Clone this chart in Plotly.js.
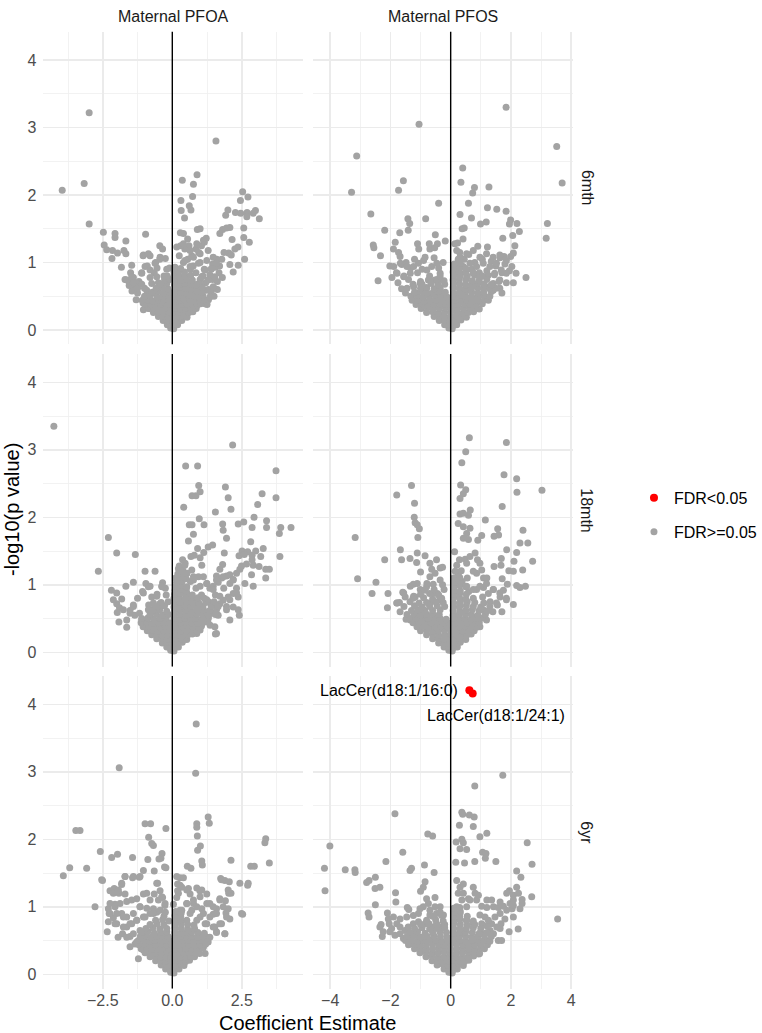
<!DOCTYPE html>
<html><head><meta charset="utf-8">
<script src="https://cdn.plot.ly/plotly-3.0.1.min.js"></script>
<style>html,body{margin:0;padding:0;background:#fff}</style>
</head><body><div id="chart" style="width:762px;height:1033px"></div>
<script>
const exposures = ['Maternal PFOA', 'Maternal PFOS'];
const timepoints = ['6mth', '18mth', '6yr'];
const legendNames = ['FDR<0.05', 'FDR>=0.05'];
const sigLabels = ['LacCer(d18:1/16:0)', 'LacCer(d18:1/24:1)'];

// [coefficient estimate, -log10(p)]
const pfoa_6mth = [
[-2.99,3.22],[-3.96,2.07],[-3.17,2.17],[-2.99,1.57],[1.57,2.80],
[-2.48,1.45],[-2.06,1.43],[-2.06,1.37],[-1.67,1.32],[-0.96,1.42],[-2.45,1.26],[-2.36,1.19],[-2.15,1.18],[-1.97,1.14],[-2.17,1.06],[-1.74,1.18],[-1.67,1.13],[-1.83,0.93],[-1.46,0.96],
[0.36,2.22],[0.89,2.30],[0.76,2.16],[0.73,1.98],[0.31,1.92],[0.32,1.77],[0.61,1.84],[0.67,1.78],[0.44,1.66],[0.29,1.44],[0.40,1.43],[0.90,1.49],[1.00,1.50],
[2.53,2.05],[2.72,1.97],[2.45,1.92],[2.00,1.78],[1.92,1.70],[2.27,1.74],[2.46,1.73],[2.69,1.74],[2.68,1.68],[2.99,1.77],[2.91,1.73],[3.13,1.65],[1.71,1.43],[1.81,1.49],[1.95,1.51],[2.07,1.52],[2.57,1.51],[2.57,1.37],[2.15,1.34],[2.36,1.23],[2.77,1.30],[2.25,1.20],[2.03,1.14],[2.12,1.11],[2.60,1.05],[2.37,0.96],[2.07,0.97],[2.19,0.86],
[1.86,1.15],[1.78,1.05],[1.60,1.05],[1.45,0.98],[1.55,0.93],[1.70,0.95],[1.40,0.90],[1.68,0.85],[1.80,0.78],[1.62,0.72],[1.45,0.75],[1.50,0.62],[1.30,0.60],[1.20,0.70],[1.10,0.80],[1.15,0.90],[1.00,1.00],[0.95,1.15],[1.05,1.25],[1.15,1.30],[1.22,1.36],[0.85,1.20],[0.70,1.10],[0.60,1.25],[0.45,1.20],[0.30,1.25],[0.55,1.35],[0.25,1.10],[0.40,1.00],[0.55,1.05],[0.75,0.95],[0.85,0.85],[1.00,0.75],[1.30,0.45],[1.50,0.50],[1.25,0.38],[1.15,0.45],[1.40,0.55],[1.62,0.60],[1.35,0.82],[0.65,0.90],[0.90,0.68],[0.80,0.58],
[0.16,1.23],[0.40,1.28],[0.64,1.18],[0.88,1.28],[1.12,1.33],[1.29,1.18],[1.00,1.13],[0.76,1.08],[0.46,1.03],[0.64,0.94],[0.94,0.99],[1.24,1.03],[1.47,1.08],[1.59,0.99],[1.41,0.91],[1.18,0.89],[1.06,0.79],[1.29,0.74],[1.53,0.79],[1.47,0.64],[1.24,0.59],[1.35,0.49],[1.18,0.39],[1.00,0.67],
[-1.50,0.85],[-1.70,0.75],[-1.55,0.72],[-1.40,0.78],[-1.35,0.65],[-1.45,0.58],[-1.25,0.55],[-1.20,0.72],[-1.10,0.85],[-1.05,1.10],[-0.80,1.10],[-0.90,0.95],[-0.60,1.00],[-0.45,1.25],[-0.35,1.20],[-0.45,1.05],[-0.25,1.06],[-0.65,0.85],[-0.80,0.78],[-1.00,0.62],[-0.90,0.50],[-1.05,0.40],[-1.04,0.30],[-0.85,0.32],[-0.70,0.55],[-0.50,0.70],[-0.30,0.80],[-0.20,0.90],[-1.30,0.45],[-0.55,0.92],
[-1.64,0.74],[-1.46,0.79],[-1.28,0.69],[-1.10,0.84],[-0.98,0.94],[-0.80,0.89],[-0.62,0.99],[-0.44,1.08],[-0.56,0.79],[-0.74,0.69],[-0.92,0.59],[-1.04,1.11],[-0.86,1.13],
[-0.06,0.03],[0.05,0.02],
[-0.18,0.08],[-0.04,0.09],[0.08,0.07],[0.19,0.08],
[-0.33,0.14],[-0.16,0.15],[0.01,0.14],[0.17,0.13],[0.34,0.14],
[-0.50,0.20],[-0.33,0.21],[-0.15,0.19],[0.03,0.20],[0.20,0.21],[0.37,0.20],[0.53,0.19],
[-0.68,0.26],[-0.50,0.27],[-0.32,0.25],[-0.12,0.26],[0.06,0.27],[0.24,0.26],[0.42,0.25],[0.60,0.26],[0.74,0.27],
[-0.84,0.32],[-0.66,0.33],[-0.47,0.31],[-0.28,0.32],[-0.10,0.33],[0.10,0.32],[0.30,0.31],[0.48,0.32],[0.66,0.33],[0.86,0.32],
[-0.98,0.38],[-0.80,0.39],[-0.60,0.37],[-0.42,0.38],[-0.22,0.39],[-0.04,0.38],[0.15,0.37],[0.34,0.38],[0.52,0.39],[0.72,0.38],[0.90,0.37],[1.02,0.39],
[-1.08,0.44],[-0.90,0.45],[-0.70,0.43],[-0.50,0.44],[-0.30,0.45],[-0.12,0.44],[0.08,0.43],[0.26,0.44],[0.45,0.45],[0.64,0.44],[0.82,0.43],[1.00,0.44],[1.12,0.45],
[-1.00,0.50],[-0.80,0.51],[-0.55,0.49],[-0.35,0.50],[-0.15,0.51],[0.05,0.50],[0.24,0.49],[0.42,0.50],[0.60,0.51],[0.80,0.50],[0.98,0.49],[1.10,0.51],
[-0.72,0.56],[-0.50,0.57],[-0.30,0.55],[-0.10,0.56],[0.12,0.57],[0.30,0.56],[0.50,0.55],[0.70,0.56],[0.90,0.57],[1.05,0.56],
[-0.58,0.62],[-0.36,0.63],[-0.16,0.61],[0.10,0.62],[0.28,0.63],[0.48,0.62],[0.68,0.61],[0.88,0.62],[1.08,0.63],
[-0.42,0.68],[-0.20,0.69],[0.08,0.67],[0.26,0.68],[0.46,0.69],[0.66,0.68],[0.86,0.67],
[-0.28,0.74],[-0.08,0.75],[0.10,0.73],[0.30,0.74],[0.50,0.75],[0.72,0.74],
[-0.18,0.80],[0.08,0.81],[0.26,0.79],[0.46,0.80],[0.66,0.81],
[0.06,0.86],[0.24,0.87],[0.44,0.86],
[-0.10,0.92],[0.10,0.93],[0.30,0.91],
[-1.55,0.66],[-1.40,0.70],[-1.25,0.62],[-1.10,0.68]
];

const pfos_6mth = [
[1.84,3.30],[-1.05,3.05],[3.52,2.72],[-3.12,2.58],[3.70,2.18],[-3.29,2.04],[0.40,2.40],[0.34,2.19],[-1.57,2.21],[-1.73,2.07],[0.79,2.11],[0.73,2.03],[1.27,2.12],[0.59,1.88],[-0.40,1.88],[-2.65,1.72],[1.22,1.81],[1.53,1.79],[1.84,1.76],[0.31,1.71],[0.69,1.66],[-1.42,1.65],[-1.36,1.58],[-0.83,1.65],[1.99,1.63],[1.95,1.57],[2.20,1.58],[1.18,1.60],[0.99,1.57],[0.38,1.50],[0.45,1.51],[3.21,1.58],[3.17,1.36],[2.28,1.46],[-2.19,1.48],[-1.69,1.44],[-1.41,1.48],[-0.51,1.41],[-0.18,1.32],[0.14,1.28],[0.23,1.29],[0.41,1.35],[1.73,1.36],[2.06,1.40],[2.13,1.25],[-2.57,1.26],[-2.55,1.22],[-1.84,1.30],[-1.90,1.20],[-1.10,1.28],[-1.06,1.20],[-0.71,1.28],[-0.69,1.20],[-0.44,1.28],[-0.53,1.22],[-2.33,1.10],[-1.73,1.15],[-1.68,1.09],[-2.02,0.95],[-2.41,0.73],[2.50,0.78],[2.08,0.70],[2.08,1.14],[1.99,1.09],[1.77,1.09],[1.64,1.07],[1.22,1.23],[0.90,1.24],[2.17,0.84],[2.03,0.94],[-1.63,0.61],
[-1.48,1.00],[-1.33,0.92],[-1.62,0.97],[-1.20,1.05],[-0.85,1.08],[-0.55,1.07],[-0.95,0.90],[-1.10,0.85],[-1.80,0.85],[-1.95,0.78],[-1.55,0.80],[-1.40,0.75],[-1.75,0.70],[-1.25,0.68],[-1.00,0.72],[-0.70,0.80],[-0.40,0.92],[-0.25,1.00],[-0.80,0.62],[-1.50,0.55],[-1.15,0.55],[-0.35,0.75],
[-1.89,0.94],[-1.78,0.84],[-1.67,0.99],[-1.45,0.94],[-1.56,0.79],[-1.34,0.84],[-1.23,0.94],[-1.07,0.99],[-0.90,1.03],[-0.79,0.89],[-0.63,0.94],[-0.46,0.99],[-0.35,0.84],[-0.52,0.74],[-0.74,0.74],[-1.01,0.69],[-1.23,0.64],[-1.45,0.62],
[0.30,1.15],[0.45,1.05],[0.60,1.12],[0.80,1.00],[1.05,1.05],[1.35,1.02],[1.50,0.95],[1.80,0.98],[1.95,0.88],[1.70,0.85],[1.45,0.82],[1.20,0.88],[0.95,0.85],[0.70,0.90],[0.50,0.85],[0.35,0.95],[1.60,0.72],[1.85,0.70],[1.70,0.55],[0.20,0.85],[0.25,1.05],
[0.20,1.18],[0.31,1.08],[0.53,1.13],[0.75,1.18],[0.97,1.08],[1.19,1.13],[1.41,1.08],[1.63,1.11],[1.85,1.03],[1.52,0.99],[1.30,0.94],[1.08,0.99],[0.86,0.94],[0.64,0.99],[0.42,0.94],[0.31,0.84],[0.53,0.79],[0.75,0.84],[0.97,0.79],[1.24,0.81],[1.46,0.84],[1.68,0.89],[1.85,0.84],[1.63,0.74],[1.41,0.69],[1.19,0.64],[1.41,0.59],[1.63,0.62],
[-0.06,0.03],[0.05,0.02],
[-0.20,0.08],[-0.05,0.09],[0.10,0.07],[0.20,0.08],
[-0.38,0.14],[-0.20,0.15],[-0.02,0.13],[0.16,0.14],[0.34,0.15],
[-0.55,0.20],[-0.36,0.21],[-0.18,0.19],[0.00,0.20],[0.18,0.21],[0.36,0.20],[0.52,0.19],
[-0.80,0.26],[-0.60,0.27],[-0.40,0.25],[-0.20,0.26],[0.00,0.27],[0.20,0.26],[0.40,0.25],[0.58,0.26],[0.76,0.27],
[-0.98,0.32],[-0.78,0.33],[-0.58,0.31],[-0.38,0.32],[-0.18,0.33],[0.02,0.32],[0.22,0.31],[0.42,0.32],[0.62,0.33],[0.82,0.32],[0.95,0.31],
[-1.15,0.38],[-0.95,0.39],[-0.75,0.37],[-0.55,0.38],[-0.35,0.39],[-0.15,0.38],[0.05,0.37],[0.25,0.38],[0.45,0.39],[0.65,0.38],[0.85,0.37],[1.05,0.39],
[-1.28,0.44],[-1.08,0.45],[-0.88,0.43],[-0.68,0.44],[-0.48,0.45],[-0.28,0.44],[-0.08,0.43],[0.12,0.44],[0.32,0.45],[0.52,0.44],[0.72,0.43],[0.92,0.44],[1.12,0.45],[1.25,0.44],
[-1.32,0.50],[-1.12,0.51],[-0.92,0.49],[-0.72,0.50],[-0.52,0.51],[-0.32,0.50],[-0.12,0.49],[0.10,0.50],[0.30,0.51],[0.50,0.50],[0.70,0.49],[0.90,0.50],[1.10,0.51],[1.30,0.50],
[-1.20,0.56],[-0.98,0.57],[-0.78,0.55],[-0.58,0.56],[-0.38,0.57],[-0.18,0.56],[0.10,0.55],[0.30,0.56],[0.50,0.57],[0.70,0.56],[0.90,0.55],[1.10,0.56],[1.35,0.57],
[-1.00,0.62],[-0.80,0.63],[-0.55,0.61],[-0.35,0.62],[0.08,0.63],[0.28,0.62],[0.48,0.61],[0.68,0.62],[0.88,0.63],[1.08,0.62],[1.30,0.61],[1.50,0.62],
[-0.95,0.68],[-0.65,0.69],[-0.42,0.67],[-0.20,0.68],[0.10,0.69],[0.30,0.68],[0.50,0.67],[0.70,0.68],[0.90,0.69],[1.10,0.68],[1.35,0.67],
[-0.70,0.74],[-0.45,0.75],[-0.22,0.73],[0.08,0.74],[0.28,0.75],[0.50,0.74],[0.72,0.73],[0.95,0.74],[1.20,0.75],
[-0.35,0.80],[0.10,0.81],[0.30,0.79],[0.55,0.80],[0.80,0.81],[1.05,0.80],
[0.08,0.86],[0.28,0.87],[0.50,0.86],[0.75,0.85],
[0.10,0.92],[0.30,0.93],[0.50,0.91],
[0.12,0.98],[0.32,0.99]
];

const pfoa_18mth = [
[-4.26,3.35],[2.17,3.07],[0.48,2.76],[0.91,2.76],[3.73,2.69],[0.95,2.47],[1.00,2.38],[0.71,2.32],[0.85,2.32],[1.91,2.45],[2.01,2.29],[3.73,2.29],[3.23,2.35],[3.07,2.19],[0.41,2.15],[2.11,2.12],[1.55,2.08],[0.97,1.98],[0.61,1.89],[0.71,1.89],[1.14,1.89],[1.81,1.90],[2.37,1.90],[2.57,1.93],[2.94,2.00],[3.39,1.95],[3.39,1.85],[2.87,1.85],[3.90,1.85],[4.27,1.85],[3.85,1.76],[3.87,1.42],[1.83,1.81],[0.76,1.75],[1.95,1.69],[0.58,1.65],[2.82,1.64],[1.45,1.59],[1.29,1.56],[0.91,1.54],[1.13,1.48],[1.87,1.47],[2.51,1.50],[2.71,1.49],[3.00,1.50],[3.27,1.54],[2.40,1.43],[2.59,1.45],[2.87,1.44],[2.87,1.37],[3.18,1.42],[0.67,1.42],[0.79,1.44],[1.00,1.40],[1.06,1.29],
[0.22,1.24],[0.37,1.37],[0.46,1.32],[0.37,1.22],[0.28,1.12],[0.52,1.17],[0.70,1.22],[0.76,1.12],[0.94,1.12],[1.12,1.12],[1.24,1.02],[1.35,0.95],[1.47,0.98],[1.65,1.04],[1.59,1.13],[1.71,1.23],[1.81,1.30],[1.78,1.10],[1.95,1.13],[2.07,1.15],[2.19,1.08],[2.07,1.02],[2.31,1.17],[2.43,1.23],[2.49,1.28],[2.67,1.31],[2.61,1.02],[2.91,0.98],[2.91,1.29],[2.85,1.15],[3.12,1.27],[3.36,1.23],[3.49,1.23],[3.36,1.10],[2.31,0.95],[2.19,0.87],[2.37,0.82],[2.01,0.82],[1.83,0.77],[1.71,0.72],[1.59,0.67],[1.95,0.63],[2.19,0.67],[2.07,0.48],[2.41,0.55],[1.48,0.58],[1.24,0.48],[1.36,0.40],[1.55,0.27],[1.00,0.33],[0.88,0.28],[1.15,0.60],[1.30,0.75],[1.05,0.85],[0.85,0.95],[0.65,1.05],[0.50,0.95],[0.80,0.75],[0.60,0.80],[1.55,0.85],[1.85,0.95],[1.65,0.55],[0.95,0.62],
[0.28,1.07],[0.52,1.17],[0.76,1.07],[1.00,0.98],[1.24,1.02],[1.47,0.93],[1.59,1.07],[1.83,1.12],[1.71,0.83],[1.47,0.73],[1.24,0.78],[1.00,0.68],[0.76,0.78],[0.52,0.88],[0.64,0.63],[1.12,0.53],[1.35,0.58],[1.59,0.63],[1.95,0.68],[2.07,0.78],[2.31,0.88],[2.19,1.07],[2.37,0.63],[1.59,0.28],[1.53,0.38],
[-2.30,1.70],[-2.00,1.47],[-1.33,1.45],[-2.66,1.20],[-0.98,1.20],[-0.62,1.20],[-2.19,0.92],[-1.67,0.98],[-1.40,1.04],[-0.95,1.02],[-0.86,0.97],[-0.35,1.03],[-0.37,0.97],[-1.07,0.90],[-0.74,0.82],[-1.82,0.79],[-2.00,0.72],[-1.90,0.66],[-1.98,0.59],[-1.92,0.45],[-1.64,0.37],[-1.52,0.62],[-1.35,0.55],[-1.18,0.58],[-1.10,0.48],[-1.40,0.70],[-0.55,0.86],[-0.22,0.85],[-0.45,0.72],[-0.65,0.65],[-0.85,0.70],[-1.25,0.80],[-0.25,0.95],
[-2.12,0.78],[-2.00,0.88],[-1.76,0.63],[-1.52,0.58],[-1.40,0.68],[-1.64,0.48],[-1.04,0.88],[-0.80,0.98],[-0.56,0.83],[-0.38,0.98],[-0.68,0.73],[-0.86,0.63],
[-0.06,0.03],[0.06,0.02],
[-0.20,0.08],[-0.05,0.09],[0.10,0.07],[0.22,0.08],
[-0.36,0.14],[-0.18,0.15],[0.00,0.13],[0.18,0.14],[0.36,0.15],
[-0.56,0.20],[-0.38,0.21],[-0.20,0.19],[-0.02,0.20],[0.16,0.21],[0.34,0.20],[0.52,0.19],
[-0.74,0.26],[-0.55,0.27],[-0.36,0.25],[-0.17,0.26],[0.02,0.27],[0.20,0.26],[0.38,0.25],[0.56,0.26],[0.72,0.27],
[-0.90,0.32],[-0.70,0.33],[-0.50,0.31],[-0.30,0.32],[-0.10,0.33],[0.10,0.32],[0.30,0.31],[0.50,0.32],[0.70,0.33],[0.88,0.32],
[-1.05,0.38],[-0.85,0.39],[-0.65,0.37],[-0.45,0.38],[-0.25,0.39],[-0.05,0.38],[0.15,0.37],[0.35,0.38],[0.55,0.39],[0.75,0.38],[0.95,0.37],[1.05,0.39],
[-1.12,0.44],[-0.92,0.45],[-0.72,0.43],[-0.50,0.44],[-0.30,0.45],[-0.10,0.44],[0.10,0.43],[0.30,0.44],[0.50,0.45],[0.70,0.44],[0.90,0.43],[1.10,0.44],[1.28,0.45],
[-1.10,0.50],[-0.88,0.51],[-0.66,0.49],[-0.44,0.50],[-0.22,0.51],[0.06,0.50],[0.26,0.49],[0.46,0.50],[0.66,0.51],[0.86,0.50],[1.06,0.49],[1.30,0.51],
[-0.80,0.56],[-0.58,0.57],[-0.36,0.55],[-0.14,0.56],[0.08,0.57],[0.28,0.56],[0.48,0.55],[0.68,0.56],[0.88,0.57],[1.08,0.56],[1.30,0.55],[1.55,0.56],
[-0.70,0.62],[-0.45,0.63],[-0.20,0.61],[0.08,0.62],[0.28,0.63],[0.48,0.62],[0.70,0.61],[0.90,0.62],[1.12,0.63],[1.35,0.62],
[-0.52,0.68],[-0.28,0.69],[0.06,0.67],[0.26,0.68],[0.46,0.69],[0.66,0.68],[0.88,0.67],[1.10,0.68],[1.40,0.69],[1.65,0.68],
[-0.40,0.74],[-0.15,0.75],[0.08,0.73],[0.28,0.74],[0.50,0.75],[0.72,0.74],[0.95,0.73],[1.20,0.74],[1.50,0.75],
[0.06,0.80],[0.26,0.81],[0.46,0.79],[0.68,0.80],[0.92,0.81],[1.15,0.80],
[0.08,0.86],[0.28,0.87],[0.50,0.86],[0.72,0.85],
[0.10,0.92],[0.30,0.93],[0.50,0.91],
[0.12,0.98],[0.32,0.99],[0.52,0.97],
[0.15,1.04],[0.35,1.05],
[0.12,1.10],[0.32,1.11],[0.50,1.09],
[0.20,1.16],[0.40,1.17],
[0.25,1.28],[0.45,1.29]
];

const pfos_18mth = [
[0.62,3.18],[1.85,3.11],[0.50,2.97],[0.37,2.81],[1.77,2.63],[2.19,2.57],[2.20,2.37],[3.03,2.40],[-1.30,2.47],[-1.79,2.33],[-1.20,2.21],[0.33,2.48],[0.50,2.41],[0.42,2.35],[0.31,2.28],[1.71,2.16],[0.65,2.11],[0.31,2.05],[0.42,2.06],[0.59,2.03],[-1.21,2.00],[-1.18,1.92],[-1.11,1.89],[-1.04,1.83],[-1.09,1.70],[-3.17,1.70],[1.15,1.96],[0.25,1.91],[0.42,1.86],[0.64,1.84],[0.53,1.76],[0.42,1.69],[0.59,1.67],[1.56,1.83],[1.59,1.74],[1.44,1.72],[1.03,1.73],[0.90,1.66],[2.40,1.81],[2.30,1.62],[2.56,1.62],[1.86,1.52],[2.19,1.48],[1.68,1.39],[2.10,1.35],[2.72,1.35],[1.44,1.27],[1.67,1.29],[1.93,1.21],[2.08,1.20],[2.39,1.22],[1.71,1.09],[1.88,1.01],[2.19,0.99],[2.30,0.96],[2.48,0.98],[2.08,0.71],
[-1.67,1.52],[-2.19,1.37],[-1.63,1.37],[-1.35,1.39],[-1.11,1.47],[-0.85,1.43],[-1.13,1.33],[-0.47,1.37],[-0.35,1.25],[-0.27,1.26],[-0.69,1.32],[-0.63,1.23],[-0.69,1.12],[-1.00,1.19],[-3.09,1.09],[-2.48,1.04],[-2.61,0.87],[-2.08,0.87],[-2.10,0.66],[-1.24,1.01],[-1.11,1.02],[-0.80,0.97],[-0.58,1.01],[-0.27,1.00],[-0.22,0.93],[-0.44,0.87],[-1.59,0.89],[-1.51,0.82],[-1.18,0.82],[-1.79,0.73],[-1.68,0.60],[-1.48,0.49],
[-1.78,0.73],[-1.56,0.88],[-1.34,0.98],[-1.23,0.83],[-1.01,0.93],[-0.79,1.02],[-0.57,0.88],[-0.35,0.78],[-0.68,0.73],[-0.90,0.63],[-1.12,0.55],[-1.34,0.48],[-0.35,1.07],[-0.52,1.17],
[0.13,1.49],[0.29,1.37],[0.20,1.29],[0.48,1.38],[0.53,1.32],[0.64,1.42],[0.81,1.47],[0.89,1.37],[0.97,1.32],[1.03,1.22],[1.09,1.10],[1.20,1.10],[0.86,1.17],[0.75,1.20],[0.55,1.10],[0.38,1.05],[0.25,1.15],[0.86,0.93],[1.09,0.96],[1.42,0.93],[1.25,0.87],[1.06,0.82],[1.31,0.75],[1.64,0.82],[1.75,0.92],[1.55,0.70],[1.40,0.60],[0.60,0.90],[1.85,0.80],[1.70,0.60],
[0.31,1.07],[0.53,0.98],[0.75,0.93],[0.97,0.98],[1.19,1.02],[1.41,0.93],[1.63,0.88],[1.85,0.78],[1.52,0.73],[1.30,0.68],[1.08,0.63],[0.86,0.53],[1.19,0.48],[0.97,0.38],
[-0.06,0.03],[0.05,0.02],
[-0.22,0.08],[-0.06,0.09],[0.10,0.07],[0.22,0.08],
[-0.40,0.14],[-0.22,0.15],[-0.04,0.13],[0.14,0.14],[0.32,0.15],
[-0.60,0.20],[-0.42,0.21],[-0.22,0.19],[-0.04,0.20],[0.14,0.21],[0.32,0.20],[0.50,0.19],
[-0.80,0.26],[-0.60,0.27],[-0.40,0.25],[-0.20,0.26],[0.00,0.27],[0.18,0.26],[0.36,0.25],[0.54,0.26],[0.68,0.27],
[-1.00,0.32],[-0.80,0.33],[-0.60,0.31],[-0.40,0.32],[-0.20,0.33],[0.00,0.32],[0.20,0.31],[0.40,0.32],[0.60,0.33],[0.78,0.32],
[-1.12,0.38],[-0.92,0.39],[-0.72,0.37],[-0.52,0.38],[-0.32,0.39],[-0.12,0.38],[0.08,0.37],[0.28,0.38],[0.48,0.39],[0.68,0.38],[0.86,0.37],
[-1.25,0.44],[-1.05,0.45],[-0.85,0.43],[-0.65,0.44],[-0.45,0.45],[-0.25,0.44],[-0.05,0.43],[0.15,0.44],[0.35,0.45],[0.55,0.44],[0.75,0.43],[0.95,0.44],
[-1.35,0.50],[-1.15,0.51],[-0.95,0.49],[-0.75,0.50],[-0.55,0.51],[-0.35,0.50],[-0.15,0.49],[0.08,0.50],[0.28,0.51],[0.48,0.50],[0.68,0.49],[0.88,0.50],[1.05,0.51],
[-1.45,0.56],[-1.22,0.57],[-1.00,0.55],[-0.80,0.56],[-0.60,0.57],[-0.38,0.56],[0.08,0.55],[0.28,0.56],[0.48,0.57],[0.68,0.56],[0.90,0.55],[1.15,0.56],
[-1.30,0.62],[-1.08,0.63],[-0.85,0.61],[-0.60,0.62],[-0.35,0.63],[0.08,0.62],[0.30,0.61],[0.50,0.62],[0.72,0.63],[0.95,0.62],[1.20,0.61],
[-1.55,0.68],[-1.20,0.69],[-0.95,0.67],[-0.70,0.68],[-0.45,0.69],[-0.20,0.68],[0.10,0.67],[0.30,0.68],[0.52,0.69],[0.75,0.68],[1.00,0.67],
[-1.70,0.74],[-1.35,0.75],[-1.05,0.73],[-0.80,0.74],[-0.50,0.75],[-0.25,0.74],[0.10,0.73],[0.32,0.74],[0.55,0.75],[0.80,0.74],[1.10,0.73],
[-1.25,0.80],[-0.90,0.81],[-0.60,0.79],[-0.30,0.80],[0.10,0.81],[0.30,0.80],[0.50,0.79],[0.75,0.80],
[-1.00,0.86],[-0.70,0.87],[-0.40,0.85],[0.10,0.86],[0.30,0.87],[0.52,0.86],
[-0.85,0.92],[-0.55,0.93],[0.12,0.92],[0.32,0.91],
[0.10,0.98],[0.30,0.99],[0.50,0.97],
[0.12,1.04],[0.32,1.05],
[0.10,1.10],[0.30,1.11],
[0.15,1.20],[0.35,1.21]
];

const pfoa_6yr = [
[0.86,3.71],[-1.91,3.06],[0.84,2.98],[-0.98,2.23],[-0.78,2.23],[-0.23,2.16],[0.88,2.23],[0.88,2.18],[0.90,2.05],[1.29,2.33],[1.33,2.24],[-3.47,2.13],[-3.32,2.13],[-0.85,2.03],[-0.74,1.94],[-0.68,1.91],[1.01,1.90],[0.91,1.84],[3.36,2.01],[3.33,1.95],[-2.59,1.82],[-1.97,1.78],[-2.18,1.73],[-1.43,1.73],[-0.37,1.79],[-0.41,1.72],[-0.48,1.71],[-0.88,1.70],[-0.28,1.59],[-0.23,1.58],[2.11,1.69],[3.49,1.65],[0.54,1.60],[0.67,1.57],[1.08,1.62],[1.06,1.68],[2.82,1.60],[2.95,1.60],[-3.69,1.58],[-3.08,1.57],[-3.92,1.46],[-2.51,1.39],[-1.70,1.45],[-1.43,1.43],[-1.19,1.44],[-1.04,1.54],[-0.65,1.53],[-0.53,1.35],[0.28,1.43],[0.40,1.43],[0.19,1.34],[0.58,1.27],[1.74,1.42],[1.89,1.39],[2.05,1.37],[2.43,1.35],[2.71,1.32],[2.03,1.20],[2.11,1.20],[-2.24,1.24],[-2.09,1.27],[-1.92,1.20],[-1.82,1.33],[-2.78,1.00],[-2.34,0.63],[-2.30,0.78],[2.53,0.89],[2.07,0.82],[1.89,0.60],
[-2.30,0.97],[-2.27,0.90],[-2.06,1.04],[-1.70,1.19],[-1.28,1.12],[-1.16,1.00],[-0.92,0.98],[-0.68,0.97],[-0.50,1.10],[-0.35,1.14],[-0.27,1.02],[-0.44,1.24],[-0.65,1.19],[-1.04,1.19],[-1.82,0.90],[-1.64,0.85],[-1.46,0.75],[-1.28,0.80],[-1.04,0.85],[-0.80,0.90],[-0.56,0.92],[-1.64,0.70],[-1.79,0.60],[-1.52,0.56],[-1.34,0.45],[-2.00,0.75],[-2.12,0.84],[-1.95,0.55],
[-2.54,1.40],[-2.12,1.20],[-1.94,1.25],[-1.82,1.35],[-1.70,1.45],[-1.40,1.45],[-1.16,1.45],[-2.24,1.05],[-2.06,1.00],[-1.88,1.05],[-1.64,1.08],[-1.46,1.10],[-2.24,0.90],[-2.00,0.90],[-1.76,0.85],[-2.06,0.75],[-1.76,0.70],[-1.52,0.75],[-1.28,0.80],[-1.40,0.90],[-1.16,1.00],[-0.92,1.20],[-0.80,1.10],[-0.56,1.35],[-0.38,1.15],[-0.26,1.05],[-0.44,0.95],[-0.68,0.90],[-0.98,0.85],[-1.16,0.65],[-1.40,0.60],[-1.64,0.55],[-1.28,0.48],[-1.22,0.23],[-1.04,0.36],[-1.52,0.41],
[0.19,1.24],[0.34,1.29],[0.64,1.19],[0.99,1.24],[1.24,1.19],[1.35,1.05],[1.59,0.97],[1.71,1.12],[1.91,1.09],[2.01,0.97],[1.93,0.91],[1.47,0.89],[1.06,0.97],[0.76,1.05],[0.52,1.05],[0.34,0.95],[0.70,0.95],[1.00,0.85],[1.24,0.75],[1.53,0.70],[1.77,0.75],[1.59,0.63],[1.35,0.55],[1.18,0.31],[0.16,1.14],[0.04,1.04],
[0.16,1.45],[0.28,1.32],[0.22,1.20],[0.52,1.25],[0.88,1.28],[1.06,1.25],[1.00,1.15],[0.76,1.10],[0.52,1.05],[0.28,0.95],[0.64,0.90],[0.88,1.00],[1.24,1.05],[1.47,1.00],[1.71,1.10],[1.83,1.00],[1.59,0.90],[1.35,0.85],[1.12,0.90],[0.88,0.80],[1.18,0.75],[1.47,0.70],[1.71,0.75],[1.95,0.85],[1.89,0.60],[1.59,0.62],[1.24,0.55],[1.12,0.40],[1.29,0.48],[2.01,1.25],[1.77,1.40],[2.49,0.90],[2.73,1.35],
[-0.06,0.03],[0.06,0.02],
[-0.24,0.08],[-0.08,0.09],[0.08,0.07],[0.24,0.08],
[-0.40,0.14],[-0.22,0.15],[-0.04,0.13],[0.14,0.14],[0.32,0.15],[0.42,0.13],
[-0.60,0.20],[-0.42,0.21],[-0.24,0.19],[-0.06,0.20],[0.12,0.21],[0.30,0.20],[0.48,0.19],[0.62,0.21],
[-0.80,0.26],[-0.60,0.27],[-0.42,0.25],[-0.24,0.26],[-0.06,0.27],[0.12,0.26],[0.30,0.25],[0.48,0.26],[0.66,0.27],[0.80,0.26],
[-0.98,0.32],[-0.78,0.33],[-0.58,0.31],[-0.40,0.32],[-0.20,0.33],[0.00,0.32],[0.20,0.31],[0.40,0.32],[0.60,0.33],[0.80,0.32],[0.98,0.31],
[-1.12,0.38],[-0.92,0.39],[-0.72,0.37],[-0.52,0.38],[-0.32,0.39],[-0.12,0.38],[0.08,0.37],[0.28,0.38],[0.48,0.39],[0.68,0.38],[0.88,0.37],[1.08,0.39],
[-1.20,0.44],[-1.00,0.45],[-0.80,0.43],[-0.60,0.44],[-0.40,0.45],[-0.20,0.44],[0.00,0.43],[0.20,0.44],[0.40,0.45],[0.60,0.44],[0.80,0.43],[1.00,0.44],[1.20,0.45],
[-1.22,0.50],[-1.02,0.51],[-0.82,0.49],[-0.62,0.50],[-0.42,0.51],[-0.22,0.50],[-0.02,0.49],[0.18,0.50],[0.38,0.51],[0.58,0.50],[0.78,0.49],[0.98,0.50],[1.18,0.51],
[-1.15,0.56],[-0.95,0.57],[-0.75,0.55],[-0.55,0.56],[-0.35,0.57],[-0.15,0.56],[0.10,0.55],[0.30,0.56],[0.50,0.57],[0.70,0.56],[0.90,0.55],[1.10,0.56],
[-1.10,0.62],[-0.88,0.63],[-0.65,0.61],[-0.42,0.62],[-0.20,0.63],[0.10,0.62],[0.30,0.61],[0.50,0.62],[0.70,0.63],[0.92,0.62],[1.15,0.61],
[-0.95,0.68],[-0.70,0.69],[-0.45,0.67],[-0.20,0.68],[0.10,0.69],[0.32,0.68],[0.55,0.67],[0.80,0.68],
[-0.80,0.74],[-0.55,0.75],[-0.30,0.73],[0.10,0.74],[0.32,0.75],[0.55,0.74],[0.78,0.73],
[-0.60,0.80],[-0.35,0.81],[-0.12,0.79],[0.10,0.80],[0.30,0.81],[0.52,0.80],
[-0.30,0.86],[0.10,0.87],[0.30,0.86],
[-0.25,0.92],[0.12,0.93],[0.32,0.91]
];

const pfos_6yr = [
[1.73,2.95],[0.80,2.79],[-1.85,2.38],[0.37,2.40],[0.40,2.37],[0.62,2.36],[0.78,2.33],[0.29,2.21],[0.75,2.19],[-0.76,2.08],[-0.60,2.05],[1.20,2.09],[0.97,2.04],[0.18,1.96],[0.37,2.00],[0.42,1.95],[0.31,1.86],[0.53,1.85],[2.54,1.95],[-4.01,1.90],[1.06,1.81],[1.17,1.79],[-1.59,1.81],[0.80,1.67],[1.50,1.67],[1.15,1.72],[0.17,1.66],[0.46,1.65],[-2.15,1.67],[-0.87,1.62],[-1.30,1.57],[-1.35,1.54],[-0.55,1.51],[2.70,1.63],[2.19,1.53],[2.33,1.44],[-4.19,1.57],[-3.50,1.55],[-3.18,1.55],[-3.17,1.51],[-2.50,1.44],[-2.71,1.39],[-2.79,1.36],[-4.17,1.24],[-2.51,1.27],[-2.35,1.29],[-1.83,1.21],[-2.50,1.03],[-1.82,1.07],[-1.44,0.99],[-1.39,0.96],[-0.52,1.14],[2.69,1.15],[3.55,0.82],[-2.74,0.91],[-2.71,0.85],[-2.31,0.74],[-2.27,0.56],[2.24,0.67],[1.94,0.63],[0.93,0.30],
[-0.85,1.37],[-0.91,1.29],[-1.00,1.23],[-0.80,1.12],[-0.91,1.00],[-1.07,0.90],[-2.10,0.91],[-2.07,0.82],[-2.04,0.75],[-1.79,0.75],[-1.68,0.70],[-1.52,0.65],[-1.41,0.70],[-1.24,0.75],[-1.07,0.78],[-0.69,0.88],[-0.47,0.90],[-0.24,0.88],[-0.35,1.00],
[-2.35,0.70],[-2.24,0.63],[-1.96,0.68],[-1.85,0.58],[-1.68,0.60],[-1.57,0.53],[-1.35,0.58],[-1.18,0.63],[-1.02,0.55],[-0.85,0.75],[-0.63,0.70],[-0.47,0.75],[-0.30,0.70],[-0.69,0.95],[-0.52,1.00],[-0.35,0.92],[-0.74,1.05],[-1.02,0.97],[-1.24,0.87],[-1.46,0.85],[-1.68,0.82],[-1.90,0.85],[-2.02,0.63],[-1.35,0.45],[-1.13,0.40],
[0.20,1.39],[0.31,1.29],[0.42,1.34],[0.25,1.20],[0.37,1.10],[0.75,1.29],[0.81,1.20],[0.86,1.10],[1.03,1.01],[1.20,0.99],[1.42,1.00],[1.58,0.99],[1.75,1.01],[1.95,1.24],[1.86,1.20],[2.08,1.17],[1.97,1.05],[2.37,1.11],[2.37,1.05],[2.30,0.97],[2.08,0.85],[2.04,0.97],[1.67,0.75],[1.64,0.68],[1.58,0.50],[1.69,0.50],[0.97,0.88],[0.53,1.00],[0.64,1.10],[1.14,0.85],[1.36,0.75],[1.20,0.72],
[0.20,1.00],[0.31,0.90],[0.53,0.80],[0.75,0.75],[1.03,0.75],[1.25,0.80],[1.47,0.85],[1.64,0.90],[1.86,0.95],[1.80,0.82],[1.53,0.70],[1.31,0.65],[1.09,0.60],[1.42,0.60],[1.20,0.50],[0.42,1.20],[0.59,1.12],[0.92,1.17],[1.20,1.10],[1.36,1.10],[1.64,1.07],[2.08,1.10],[2.25,1.20],[2.19,1.29],[2.08,1.02],
[-0.06,0.03],[0.05,0.02],
[-0.22,0.08],[-0.06,0.09],[0.10,0.07],[0.22,0.08],
[-0.45,0.14],[-0.26,0.15],[-0.08,0.13],[0.10,0.14],[0.28,0.15],[0.42,0.13],
[-0.62,0.20],[-0.44,0.21],[-0.26,0.19],[-0.08,0.20],[0.10,0.21],[0.28,0.20],[0.46,0.19],[0.60,0.21],
[-0.82,0.26],[-0.62,0.27],[-0.42,0.25],[-0.22,0.26],[-0.02,0.27],[0.18,0.26],[0.38,0.25],[0.58,0.26],[0.76,0.27],
[-1.02,0.32],[-0.82,0.33],[-0.62,0.31],[-0.42,0.32],[-0.22,0.33],[-0.02,0.32],[0.18,0.31],[0.38,0.32],[0.58,0.33],[0.78,0.32],[0.96,0.31],
[-1.20,0.38],[-1.00,0.39],[-0.80,0.37],[-0.60,0.38],[-0.40,0.39],[-0.20,0.38],[0.00,0.37],[0.20,0.38],[0.40,0.39],[0.60,0.38],[0.80,0.37],[1.00,0.39],[1.12,0.38],
[-1.40,0.44],[-1.20,0.45],[-1.00,0.43],[-0.80,0.44],[-0.60,0.45],[-0.40,0.44],[-0.20,0.43],[0.00,0.44],[0.20,0.45],[0.40,0.44],[0.60,0.43],[0.80,0.44],[1.00,0.45],[1.22,0.44],
[-1.50,0.50],[-1.30,0.51],[-1.10,0.49],[-0.90,0.50],[-0.70,0.51],[-0.50,0.50],[-0.30,0.49],[-0.10,0.50],[0.10,0.51],[0.30,0.50],[0.50,0.49],[0.70,0.50],[0.90,0.51],[1.10,0.50],[1.30,0.49],
[-1.45,0.56],[-1.22,0.57],[-1.00,0.55],[-0.78,0.56],[-0.56,0.57],[-0.34,0.56],[-0.12,0.55],[0.10,0.56],[0.30,0.57],[0.50,0.56],[0.70,0.55],[0.90,0.56],[1.12,0.57],[1.35,0.56],
[-1.35,0.62],[-1.10,0.63],[-0.85,0.61],[-0.60,0.62],[-0.36,0.63],[-0.14,0.62],[0.10,0.61],[0.30,0.62],[0.50,0.63],[0.72,0.62],[0.95,0.61],[1.20,0.62],
[-1.20,0.68],[-0.95,0.69],[-0.70,0.67],[-0.45,0.68],[-0.20,0.69],[0.10,0.68],[0.30,0.67],[0.52,0.68],[0.75,0.69],[1.00,0.68],
[-1.00,0.74],[-0.72,0.75],[-0.45,0.73],[-0.20,0.74],[0.10,0.75],[0.32,0.74],[0.55,0.73],[0.80,0.74],
[-0.80,0.80],[-0.50,0.81],[-0.25,0.79],[0.10,0.80],[0.30,0.81],[0.52,0.80],[0.75,0.79],
[-0.60,0.86],[-0.30,0.87],[0.10,0.86],[0.30,0.85],[0.55,0.86],
[0.12,0.92],[0.32,0.93],
[0.10,0.98],[0.30,0.99]
];

const pfos_6yr_sig = [[0.62,4.21],[0.73,4.16]];

const grey = '#A3A3A3';
const red = '#FF0000';
const FONT = 'Liberation Sans, Arial, Helvetica, sans-serif';

const panels = [[pfoa_6mth, pfos_6mth], [pfoa_18mth, pfos_18mth], [pfoa_6yr, pfos_6yr]];
const colX = [
  {range: [-4.64, 4.69], dtick: 2.5, minor0: 1.25, fmt: '.1f'},
  {range: [-4.56, 4.07], dtick: 2, minor0: 1, fmt: 'd'}
];
const colDom = [[43.3/762, 302.7/762], [313.3/762, 573.3/762]];
const rowDom = [[1-344.2/1033, 1-31.7/1033], [1-666.5/1033, 1-354/1033], [1-988.5/1033, 1-676/1033]];

const traces = [];
const layout = {
  width: 762, height: 1033,
  margin: {l: 0, r: 0, t: 0, b: 0},
  paper_bgcolor: '#fff', plot_bgcolor: '#fff',
  font: {family: FONT, color: '#1A1A1A'},
  showlegend: true,
  legend: {x: 0.832, y: 0.5015, xanchor: 'left', yanchor: 'middle', font: {size: 16, color: '#000'},
           tracegroupgap: 10, traceorder: 'grouped', bgcolor: 'rgba(0,0,0,0)'},
  shapes: [], annotations: []
};

for (let r = 0; r < 3; r++) {
  for (let c = 0; c < 2; c++) {
    const idx = r*2 + c + 1;
    const s = idx === 1 ? '' : String(idx);
    const pts = panels[r][c];
    traces.push({
      type: 'scatter', mode: 'markers',
      x: pts.map(p => p[0]), y: pts.map(p => p[1]),
      xaxis: 'x' + s, yaxis: 'y' + s,
      marker: {color: grey, size: 7},
      name: legendNames[1], legendgroup: 'ns', legendrank: 2,
      showlegend: idx === 1, hoverinfo: 'skip'
    });
    layout['xaxis' + s] = {
      domain: colDom[c], range: colX[c].range, anchor: 'y' + s,
      tick0: 0, dtick: colX[c].dtick, tickformat: colX[c].fmt,
      showticklabels: r === 2, ticks: '', ticklabelstandoff: 0,
      tickfont: {size: 16, color: '#4D4D4D', family: FONT},
      showgrid: true, gridcolor: '#EBEBEB', gridwidth: 1.5,
      minor: {tick0: colX[c].minor0, dtick: colX[c].dtick, showgrid: true, gridcolor: '#EFEFEF', gridwidth: 0.8},
      zeroline: false, showline: false, fixedrange: true
    };
    layout['yaxis' + s] = {
      domain: rowDom[r], range: [-0.21, 4.42], anchor: 'x' + s,
      tick0: 0, dtick: 1,
      showticklabels: c === 0, ticks: '', ticklabelstandoff: 6,
      tickfont: {size: 16, color: '#4D4D4D', family: FONT},
      showgrid: true, gridcolor: '#EBEBEB', gridwidth: 1.5,
      minor: {tick0: 0.5, dtick: 1, showgrid: true, gridcolor: '#EFEFEF', gridwidth: 0.8},
      zeroline: false, showline: false, fixedrange: true
    };
    layout.shapes.push({type: 'line', xref: 'x' + s, yref: 'y' + s + ' domain',
      x0: 0, x1: 0, y0: 0, y1: 1, line: {color: '#000', width: 1.4}, layer: 'above'});
  }
}

traces.push({
  type: 'scatter', mode: 'markers',
  x: pfos_6yr_sig.map(p => p[0]), y: pfos_6yr_sig.map(p => p[1]),
  xaxis: 'x6', yaxis: 'y6',
  marker: {color: red, size: 8},
  name: legendNames[0], legendgroup: 'sig', legendrank: 1,
  showlegend: true, hoverinfo: 'skip'
});

exposures.forEach((t, c) => layout.annotations.push({
  text: t, xref: 'paper', yref: 'paper', x: (colDom[c][0]+colDom[c][1])/2, y: 1-16.7/1033,
  showarrow: false, xanchor: 'center', yanchor: 'middle', font: {size: 16, color: '#1A1A1A'}
}));
timepoints.forEach((t, r) => layout.annotations.push({
  text: t, xref: 'paper', yref: 'paper', x: 587/762, y: (rowDom[r][0]+rowDom[r][1])/2,
  showarrow: false, textangle: 90, xanchor: 'center', yanchor: 'middle', font: {size: 16, color: '#1A1A1A'}
}));
layout.annotations.push({text: 'Coefficient Estimate', xref: 'paper', yref: 'paper',
  x: 308.3/762, y: 1-1023/1033, showarrow: false, xanchor: 'center', yanchor: 'middle',
  font: {size: 20, color: '#000'}});
layout.annotations.push({text: '-log10(p value)', xref: 'paper', yref: 'paper',
  x: 12/762, y: 1-510/1033, showarrow: false, textangle: -90, xanchor: 'center', yanchor: 'middle',
  font: {size: 20, color: '#000'}});
layout.annotations.push({text: sigLabels[0], xref: 'x6', yref: 'y6', x: pfos_6yr_sig[0][0] - 0.31, y: pfos_6yr_sig[0][1],
  showarrow: false, xanchor: 'right', yanchor: 'middle', font: {size: 16, color: '#000'}});
layout.annotations.push({text: sigLabels[1], xref: 'x6', yref: 'y6', x: pfos_6yr_sig[1][0] + 0.77, y: pfos_6yr_sig[1][1] - 0.32,
  showarrow: false, xanchor: 'center', yanchor: 'middle', font: {size: 16, color: '#000'}});

Plotly.newPlot('chart', traces, layout, {displayModeBar: false, staticPlot: true});
</script></body></html>
